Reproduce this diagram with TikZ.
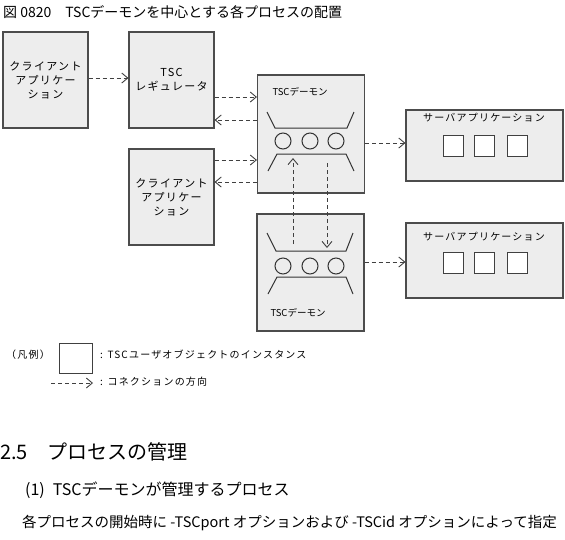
\documentclass[tikz,border=0pt]{standalone}
\usepackage{fontspec}
\setmainfont{Noto Sans CJK JP}
\newfontfamily\jpf[LetterSpace=12]{Noto Sans CJK JP}
\usetikzlibrary{arrows.meta}
\begin{document}
\begin{tikzpicture}[x=1pt,y=-1pt,
  box/.style={draw=black!70,fill=black!7,line width=1.1pt,inner sep=0pt,align=center,font=\jpf\fontsize{11}{14}\selectfont},
  conn/.style={draw=black!75,line width=0.9pt,dash pattern=on 4pt off 3pt,-{Straight Barb[length=6pt,width=10pt,line width=0.9pt]}},
  inst/.style={draw=black!75,fill=white,line width=1pt,minimum width=20pt,minimum height=21pt,inner sep=0pt},
  lbl/.style={inner sep=0pt,font=\jpf\fontsize{10}{13}\selectfont},
  dlbl/.style={inner sep=0pt,font=\fontsize{9.5}{12}\selectfont},
  shp/.style={draw=black!80,line width=1pt}]
\useasboundingbox (0,0) rectangle (565,539);
% title
\node[anchor=west,inner sep=0pt,font=\fontsize{14}{16}\selectfont] (title) at (3,12) {図 0820\quad TSCデーモンを中心とする各プロセスの配置};
% boxes
\node[box,minimum width=85pt,minimum height=96pt] (c1) at (45.5,80) {クライアント\\アプリケー\\ション};
\node[box,minimum width=85pt,minimum height=96pt] (reg) at (171.5,80) {TSC\\レギュレータ};
\node[box,minimum width=85pt,minimum height=96pt] (c2) at (171.5,197) {クライアント\\アプリケー\\ション};
\node[box,minimum width=107pt,minimum height=118pt] (d1) at (311,134) {};
\node[box,minimum width=107pt,minimum height=117pt] (d2) at (310.5,272.5) {};
\node[box,minimum width=157pt,minimum height=71pt] (s1) at (484.5,145.5) {};
\node[box,minimum width=157pt,minimum height=75pt] (s2) at (484.5,260.5) {};
% daemon 1 content
\node[dlbl] (d1t) at (300,92) {TSCデーモン};
\draw[shp] (267,112) -- (275,128) -- (347,128) -- (354,112);
\foreach \x/\n in {283/a,310/b,336/c} \node[shp,circle,minimum size=16pt,inner sep=0pt] (d1\n) at (\x,141) {};
\draw[shp] (268,171) -- (277,154) -- (346,154) -- (354,171);
% daemon 2 content
\draw[shp] (267,233) -- (276,251) -- (346,251) -- (353,233);
\foreach \x/\n in {283/a,310/b,336/c} \node[shp,circle,minimum size=16pt,inner sep=0pt] (d2\n) at (\x,266) {};
\draw[shp] (268,294) -- (277,277) -- (346,277) -- (353,294);
\node[dlbl] (d2t) at (298,313) {TSCデーモン};
% server contents
\node[lbl] (s1t) at (484,118) {サーバアプリケーション};
\foreach \x/\n in {453/a,484.5/b,517/c} \node[inst] (s1\n) at (\x,145.5) {};
\node[lbl] (s2t) at (484,237) {サーバアプリケーション};
\foreach \x/\n in {453/a,484.5/b,517/c} \node[inst] (s2\n) at (\x,262.5) {};
% connectors
\draw[conn] (c1.east |- 0,78) -- (reg.west |- 0,78);
\draw[conn] (reg.east |- 0,97) -- (d1.west |- 0,97);
\draw[conn] (d1.west |- 0,120) -- (reg.east |- 0,120);
\draw[conn] (c2.east |- 0,160) -- (d1.west |- 0,160);
\draw[conn] (d1.west |- 0,182) -- (c2.east |- 0,182);
\draw[conn] (d1.east |- 0,143) -- (s1.west |- 0,143);
\draw[conn] (d2.east |- 0,262) -- (s2.west |- 0,262);
\coordinate (u1) at (293,244);
\coordinate (u2) at (293,158);
\coordinate (v1) at (327,163);
\coordinate (v2) at (327,248);
\draw[conn] (u1) -- (u2);
\draw[conn] (v1) -- (v2);
% legend
\node[anchor=west,lbl] (lg) at (6,355) {（凡例）};
\node[draw=black!75,line width=1pt,minimum width=33pt,minimum height=30pt,inner sep=0pt] (lgbox) at (75.5,358) {};
\node[anchor=west,lbl] (lgt1) at (100,355) {: TSCユーザオブジェクトのインスタンス};
\coordinate (la) at (51,383);
\coordinate (lb) at (93,383);
\draw[conn] (la) -- (lb);
\node[anchor=west,lbl] (lgt2) at (100,382) {: コネクションの方向};
% text below
\node[anchor=west,inner sep=0pt,font=\fontsize{20}{24}\selectfont] (h1) at (0,452) {2.5\quad プロセスの管理};
\node[anchor=west,inner sep=0pt,font=\fontsize{16}{19}\selectfont] (h2) at (25,490) {(1)\; TSCデーモンが管理するプロセス};
\node[anchor=west,inner sep=0pt,font=\fontsize{14.5}{17}\selectfont] (p1) at (22,523) {各プロセスの開始時に -TSCport オプションおよび -TSCid オプションによって指定};
\end{tikzpicture}
\end{document}
